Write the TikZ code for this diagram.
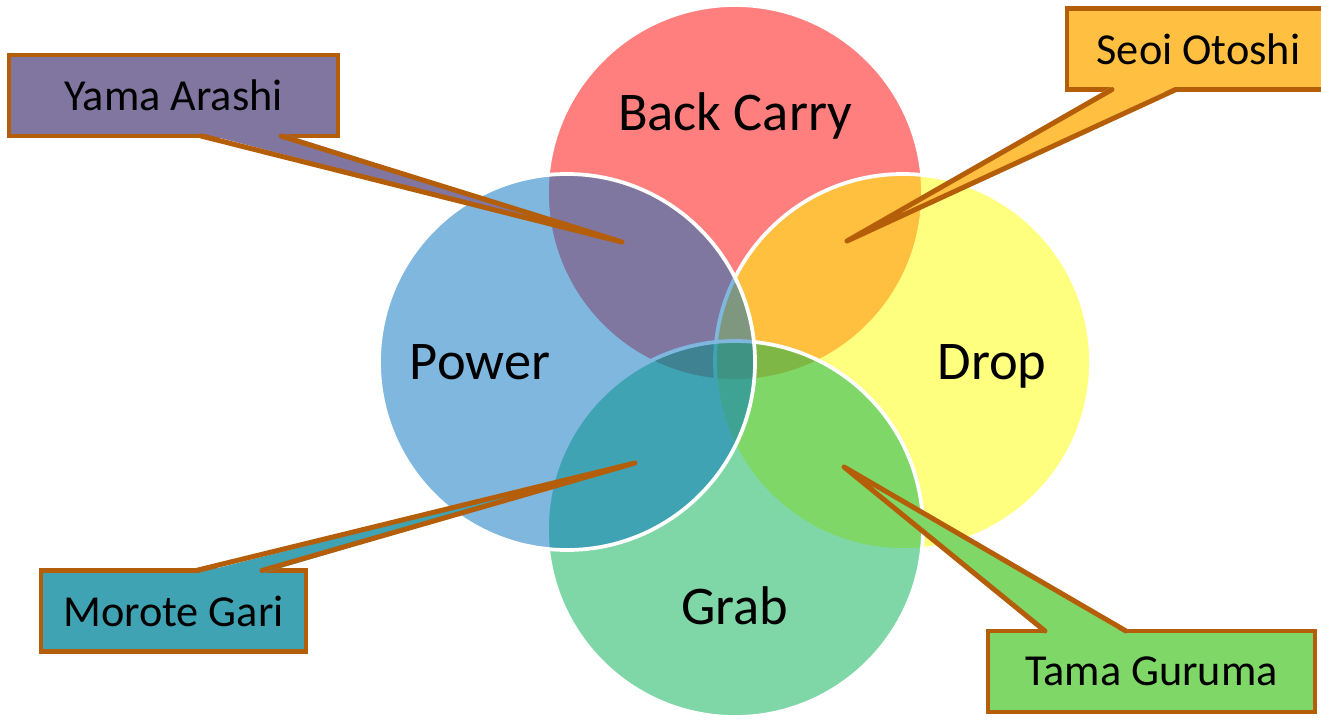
\documentclass[tikz,border=0pt]{standalone}
\usepackage{fontspec}
\setmainfont{Carlito}
\usepackage{tikz}
\usetikzlibrary{positioning,shapes,calc}
\definecolor{redset}{RGB}{255,0,0}
\definecolor{yellowset}{RGB}{255,255,0}
\definecolor{greenset}{RGB}{0,176,80}
\definecolor{blueset}{RGB}{0,112,192}
\definecolor{calloutline}{RGB}{181,94,10}
\definecolor{purplebox}{RGB}{128,118,160}
\definecolor{orangebox}{RGB}{255,191,64}
\definecolor{tealbox}{RGB}{64,163,179}
\definecolor{greenbox}{RGB}{127,215,103}
\tikzstyle{setcircle} = [circle, minimum size=75.2mm, inner sep=0pt, draw=white, line width=0.75mm, fill opacity=0.5]
\tikzstyle{setlabel} = [anchor=base, font=\fontsize{31}{37}\selectfont, text=black]
\tikzstyle{callout} = [rectangle, minimum height=16.2mm, inner sep=0pt, outer sep=0pt, draw=calloutline, line width=0.9mm, font=\fontsize{25.2}{30}\selectfont]
\tikzstyle{pointer} = [draw=calloutline, line width=1mm, line join=round, line cap=round]

\begin{document}
\begin{tikzpicture}[x=0.2mm,y=-0.2mm]
			\useasboundingbox (0,0) rectangle (1321,720);
			\clip (0,0) rectangle (1321,720);
			\node (backcarry) [setcircle, fill=redset] at (735,193) {};
			\node (drop) [setcircle, fill=yellowset] at (903,362) {};
			\node (grab) [setcircle, fill=greenset] at (735,529) {};
			\node (power) [setcircle, fill=blueset] at (567,362) {};
			\node (backcarrytext) [setlabel] at (735,131) {Back Carry};
			\node (powertext) [setlabel] at (480,379) {Power};
			\node (droptext) [setlabel] at (992,379) {Drop};
			\node (grabtext) [setlabel] at (735,624) {Grab};
			%-----------------------------------------------
			\node (yama) [callout, fill=purplebox, minimum width=65.8mm] at (173.5,95.5) {Yama Arashi};
			\node (seoi) [callout, fill=orangebox, minimum width=52.6mm] at (1198.5,49) {Seoi Otoshi};
			\node (morote) [callout, fill=tealbox, minimum width=53mm] at (173.5,611) {Morote Gari};
			\node (tama) [callout, fill=greenbox, minimum width=65.4mm] at (1151.5,671.5) {Tama Guruma};
			\coordinate (yamatip) at (622,242);
			\coordinate (seoitip) at (847,241);
			\coordinate (morotetip) at (635,463);
			\coordinate (tamatip) at (844,467);
			%-----------------------------------------------
			\fill [purplebox] ($(yama.south west)+(192,-3)$) -- (yamatip) -- ($(yama.south west)+(272,-3)$) -- cycle;
			\draw [pointer] ($(yama.south west)+(192,0)$) -- (yamatip) -- ($(yama.south west)+(272,0)$);
			\fill [orangebox] ($(seoi.south west)+(45,-3)$) -- (seoitip) -- ($(seoi.south west)+(109,-3)$) -- cycle;
			\draw [pointer] ($(seoi.south west)+(45,0)$) -- (seoitip) -- ($(seoi.south west)+(109,0)$);
			\fill [tealbox] ($(morote.north west)+(155,3)$) -- (morotetip) -- ($(morote.north west)+(221,3)$) -- cycle;
			\draw [pointer] ($(morote.north west)+(155,0)$) -- (morotetip) -- ($(morote.north west)+(221,0)$);
			\fill [greenbox] ($(tama.north west)+(57,3)$) -- (tamatip) -- ($(tama.north west)+(138,3)$) -- cycle;
			\draw [pointer] ($(tama.north west)+(57,0)$) -- (tamatip) -- ($(tama.north west)+(138,0)$);
\end{tikzpicture}
\end{document}
